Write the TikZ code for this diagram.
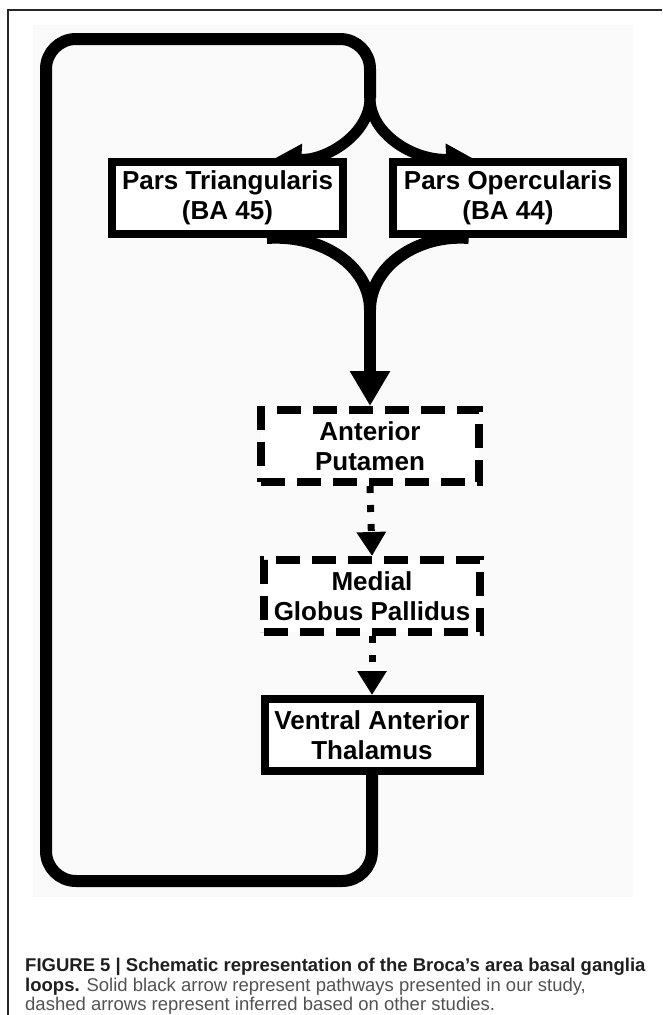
\documentclass[tikz,border=0pt]{standalone}
\usepackage{fontspec}
\setmainfont{Liberation Sans}
\usetikzlibrary{arrows.meta,calc,backgrounds}

\begin{document}
\begin{tikzpicture}
[
x = 1pt, y = -1pt,
region/.style = {draw, line width = 8pt, fill = white, minimum width = 231pt, minimum height = 72pt, inner sep = 0pt, align = center, font = \fontsize{26}{30}\selectfont\bfseries},
dashedregion/.style = {region, dash pattern = on 24pt off 12pt},
route/.style = {line width = 12pt},
branch/.style = {line width = 11pt, -{Triangle[length = 26pt, width = 30pt]}},
dots/.style = {line width = 7pt, dash pattern = on 7pt off 12pt, -{Triangle[length = 24pt, width = 28pt]}},
]

\useasboundingbox (0,0) rectangle (662,1015);

\node (tri) at (227.5,198) [region] {Pars Triangularis\\(BA 45)};
\node (oper) at (508,198) [region, minimum width = 230pt] {Pars Opercularis\\(BA 44)};
\node (put) at (370,446) [dashedregion, minimum width = 218pt] {Anterior\\Putamen};
\node (gp) at (372,596) [dashedregion, minimum width = 216pt] {Medial\\Globus Pallidus};
\node (va) at (372,735) [region, minimum width = 215pt] {Ventral Anterior\\Thalamus};

\coordinate (split) at (370,98);
\coordinate (merge) at (370,310);
\coordinate (cornerbl) at (46,881);
\coordinate (cornertl) at (46,39);

\begin{scope}[on background layer]
\fill[black!2] (33,25) rectangle (633,897);

\draw[route, rounded corners = 30pt] (va.south) |- (cornerbl) -- (cornertl) -| (split);
\draw[branch] (split) .. controls (370,134) and (326,161) .. ($(tri.north)!0.4!(tri.north east)$);
\draw[branch] (split) .. controls (370,134) and (414,161) .. ($(oper.north)!0.3!(oper.north west)$);

\draw[route] ($(tri.south)!0.33!(tri.south east)$) .. controls (322,234) and (370,266) .. (merge);
\draw[route] ($(oper.south)!0.33!(oper.south west)$) .. controls (418,234) and (370,266) .. (merge);
\draw[route, -{Triangle[length = 35pt, width = 38pt]}] (merge) -- (put.north);

\draw[dots] (put.south) -- (gp.north);
\draw[dots] (gp.south) -- (va.north);
\end{scope}

\draw[black!85, line width = 2pt] (8,1015) -- (8,10) -- (662,10);

\node (cap) at (25,958) [anchor = north west, align = left, inner sep = 0pt, text = black!68, font = \fontsize{18.5}{19.5}\selectfont]
{\textcolor{black!88}{\bfseries FIGURE 5 | Schematic representation of the Broca’s area basal ganglia}\\
\textcolor{black!88}{\bfseries loops.} Solid black arrow represent pathways presented in our study,\\
dashed arrows represent inferred based on other studies.};
\end{tikzpicture}
\end{document}
